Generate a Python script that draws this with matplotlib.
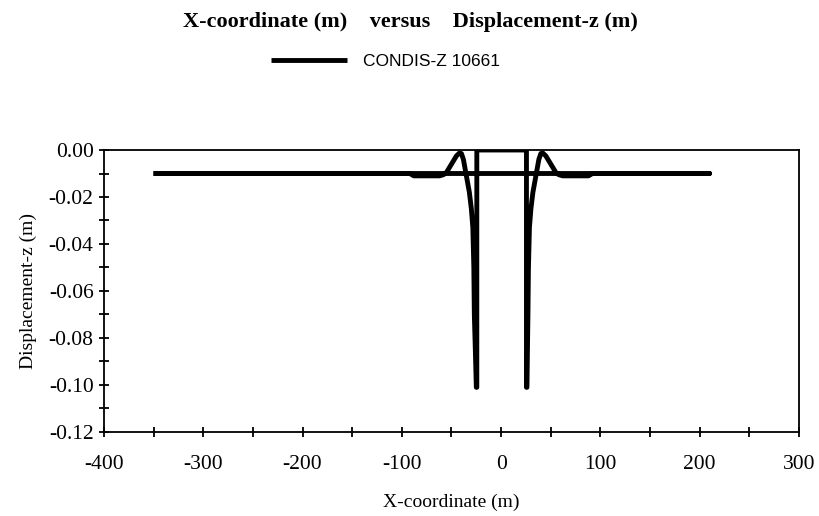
import matplotlib
matplotlib.use("Agg")
import matplotlib.pyplot as plt
from matplotlib.ticker import MultipleLocator, FormatStrFormatter

plt.rcParams["axes.unicode_minus"] = False

# path of the CONDIS-Z 10661 curve
x_coord = [-350, 210, 92, 88, 62, 58, 55, 50, 45, 42, 40, 38, 35, 32, 30,
           28.5, 27.5, 27, 26.5, 26, 25.5, 25.5, -24.5, -24.5, -25, -26,
           -27, -27.5, -28.5, -30, -32, -35, -38, -40, -42, -45, -50, -55,
           -58, -62, -88, -92, -350]
disp_z = [-0.0100, -0.0100, -0.0100, -0.0110, -0.0110, -0.0105, -0.0095,
          -0.0060, -0.0025, -0.0013, -0.0015, -0.0040, -0.0110, -0.0180,
          -0.0250, -0.0330, -0.0500, -0.0700, -0.0850, -0.1010, -0.1010,
          0.0000, 0.0000, -0.1010, -0.1010, -0.0850, -0.0700, -0.0500,
          -0.0330, -0.0250, -0.0180, -0.0110, -0.0040, -0.0015, -0.0013,
          -0.0025, -0.0060, -0.0095, -0.0105, -0.0110, -0.0110, -0.0100,
          -0.0100]

serif = "Liberation Serif"

fig = plt.figure(figsize=(8.2, 5.16), dpi=100)
ax = fig.add_axes([0.1268, 0.1628, 0.8476, 0.5465])

line, = ax.plot(x_coord, disp_z, color="black", linewidth=3.5,
                solid_joinstyle="round", solid_capstyle="butt")

ax.set_xlim(-400, 300)
ax.set_ylim(-0.12, 0.0)
ax.xaxis.set_major_locator(MultipleLocator(100))
ax.xaxis.set_minor_locator(MultipleLocator(50))
ax.yaxis.set_major_locator(MultipleLocator(0.02))
ax.yaxis.set_minor_locator(MultipleLocator(0.01))
ax.yaxis.set_major_formatter(FormatStrFormatter("%.2f"))
ax.tick_params(which="both", direction="inout", length=7, width=1.3,
               labelsize=15.5)
ax.tick_params(axis="x", pad=13)
ax.tick_params(axis="y", pad=4)
for lab in ax.get_xticklabels() + ax.get_yticklabels():
    lab.set_family(serif)
for sp in ax.spines.values():
    sp.set_linewidth(1.3)

ax.set_xlabel("X-coordinate (m)", family=serif, fontsize=14, labelpad=14)
ax.set_ylabel("Displacement-z (m)", family=serif, fontsize=14, labelpad=8)

fig.text(0.5, 0.958, "X-coordinate (m)    versus    Displacement-z (m)",
         ha="center", va="center", family=serif, fontweight="bold",
         fontsize=16)

fig.legend([line], ["CONDIS-Z 10661"], loc="center", bbox_to_anchor=(0.47, 0.88),
           frameon=False, handlelength=4.4, handletextpad=0.9,
           prop={"family": "Liberation Sans", "size": 12.5})

fig.savefig("out.png", dpi=100)
